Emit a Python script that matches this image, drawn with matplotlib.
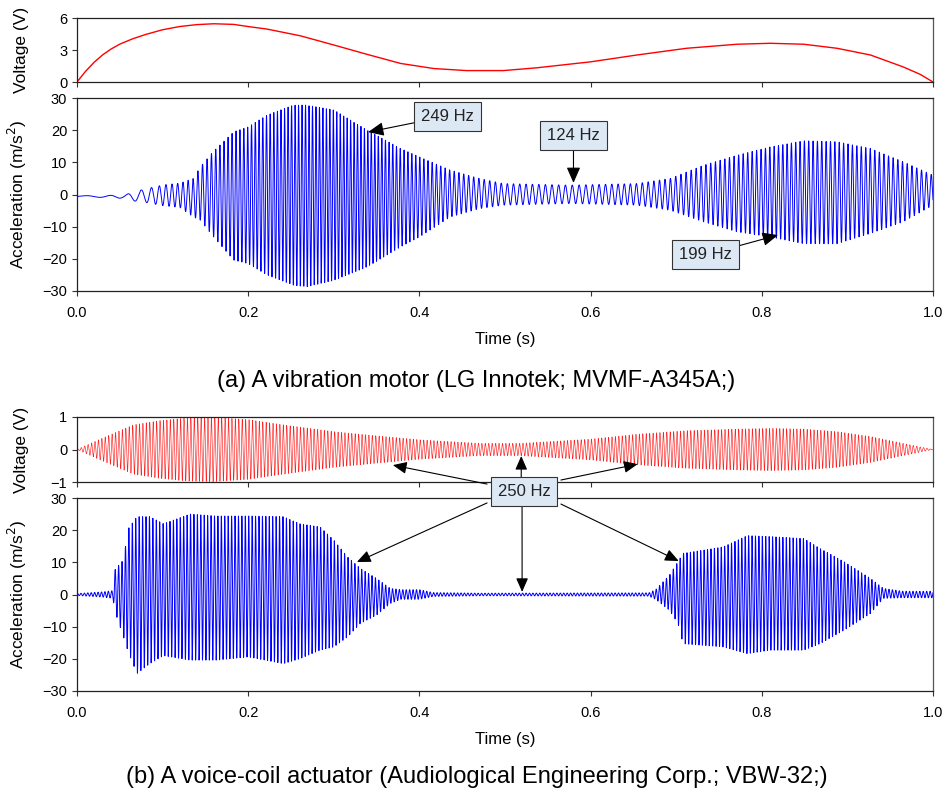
import numpy as np
import matplotlib
matplotlib.use('Agg')
import matplotlib.pyplot as plt

plt.rcParams['font.family'] = ['Liberation Sans', 'DejaVu Sans']
plt.rcParams['font.size'] = 10.5

# (a) vibration motor: drive voltage (V) sampled along the sweep
va_t = [0.0, 0.01, 0.02, 0.03, 0.04, 0.05, 0.065, 0.08, 0.1, 0.12, 0.14, 0.16, 0.183,
        0.2, 0.222, 0.261, 0.3, 0.339, 0.378, 0.417, 0.455, 0.498, 0.537, 0.6, 0.654,
        0.712, 0.771, 0.81, 0.849, 0.888, 0.927, 0.965, 0.985, 1.0]
va_v = [0.0, 1.0, 1.85, 2.55, 3.1, 3.55, 4.05, 4.45, 4.9, 5.2, 5.38, 5.46, 5.4,
        5.2, 4.96, 4.33, 3.47, 2.59, 1.74, 1.26, 1.07, 1.07, 1.33, 1.89, 2.53,
        3.16, 3.54, 3.63, 3.54, 3.16, 2.53, 1.42, 0.72, 0.0]

# (a) acceleration envelope (m/s^2) and vibration frequency (Hz)
aa_t = [0.0, 0.03, 0.055, 0.066, 0.081, 0.101, 0.12, 0.136, 0.144, 0.159, 0.183, 0.2,
        0.222, 0.253, 0.268, 0.3, 0.339, 0.378, 0.4, 0.436, 0.47, 0.498, 0.576, 0.654,
        0.693, 0.732, 0.771, 0.81, 0.849, 0.888, 0.927, 0.965, 1.0]
aa_upper = [-0.4, -0.3, -0.2, 0.8, 1.8, 3.0, 3.5, 5.0, 8.6, 13.3, 19.5, 21.0,
            24.7, 27.8, 27.8, 26.3, 20.0, 14.3, 11.7, 7.6, 5.0, 3.4, 2.9, 3.4,
            5.0, 9.1, 12.2, 14.8, 16.7, 16.4, 14.3, 10.2, 6.0]
aa_lower = [-0.8, -0.9, -1.2, -2.0, -2.5, -3.5, -4.0, -7.0, -8.0, -13.0, -20.4, -21.5,
            -25.0, -28.2, -28.7, -26.7, -22.5, -16.3, -13.2, -7.0, -4.4, -3.3, -2.8, -3.3,
            -4.9, -8.5, -11.6, -13.2, -15.3, -15.3, -12.1, -8.5, -3.3]
fa_t = [0.0, 0.066, 0.08, 0.1, 0.12, 0.17, 0.25, 0.34, 0.42, 0.5, 0.58, 0.66, 0.74, 0.82, 0.9, 1.0]
fa_hz = [20, 60, 80, 130, 160, 210, 245, 249, 200, 140, 124, 145, 180, 199, 195, 175]

# (b) voice-coil actuator: 250 Hz drive, voltage envelope (V)
vb_t = [0.0, 0.027, 0.066, 0.097, 0.128, 0.159, 0.2, 0.241, 0.3, 0.339, 0.4, 0.47,
        0.517, 0.6, 0.654, 0.712, 0.771, 0.81, 0.849, 0.888, 0.927, 0.965, 1.0]
vb_amp = [0.0, 0.32, 0.76, 0.89, 0.97, 0.99, 0.92, 0.76, 0.55, 0.45, 0.30, 0.19,
          0.19, 0.32, 0.47, 0.58, 0.63, 0.65, 0.63, 0.55, 0.40, 0.19, 0.0]
fb_hz = 250

# (b) acceleration envelope (m/s^2)
ab_t = [0.0, 0.03, 0.042, 0.044, 0.054, 0.06, 0.07, 0.085, 0.101, 0.132,
        0.163, 0.2, 0.241, 0.26, 0.284, 0.3, 0.316, 0.331, 0.35, 0.366,
        0.378, 0.4, 0.416, 0.47, 0.668, 0.676, 0.692, 0.702, 0.708, 0.732,
        0.755, 0.783, 0.81, 0.849, 0.868, 0.896, 0.927, 0.942, 0.965, 1.0]
ab_upper = [0.3, 0.8, 1.2, 7.6, 10.7, 20.5, 24.2, 24.2, 22.0, 25.0,
            24.4, 24.4, 24.2, 22.0, 21.0, 16.9, 11.7, 8.1, 5.0, 1.9,
            1.5, 1.5, 0.6, 0.4, 0.5, 1.5, 6.0, 10.2, 12.8, 13.8,
            14.8, 18.3, 18.0, 17.4, 14.3, 10.2, 5.0, 1.9, 1.0, 1.0]
ab_lower = [-0.3, -0.8, -1.2, -5.0, -13.0, -18.0, -24.6, -21.5, -19.0, -20.4,
            -20.4, -19.4, -21.5, -20.0, -17.3, -16.3, -13.2, -9.0, -6.4, -2.8,
            -1.5, -1.5, -0.6, -0.4, -0.5, -1.5, -4.9, -9.0, -15.3, -15.8,
            -16.3, -18.4, -17.3, -17.3, -15.3, -11.1, -5.9, -1.2, -1.0, -1.0]

# build the sampled waveforms (10 kHz)
fs = 10000
t = np.arange(0, fs + 1) / fs
phase_a = 2 * np.pi * np.cumsum(np.interp(t, fa_t, fa_hz)) / fs
up_a, lo_a = np.interp(t, aa_t, aa_upper), np.interp(t, aa_t, aa_lower)
acc_a = (up_a + lo_a) / 2 + (up_a - lo_a) / 2 * np.sin(phase_a)

carrier_b = np.sin(2 * np.pi * fb_hz * t)
volt_b = np.interp(t, vb_t, vb_amp) * carrier_b
up_b, lo_b = np.interp(t, ab_t, ab_upper), np.interp(t, ab_t, ab_lower)
acc_b = (up_b + lo_b) / 2 + (up_b - lo_b) / 2 * np.sin(2 * np.pi * fb_hz * t + 0.6)

fig = plt.figure(figsize=(9.44, 7.91), dpi=100)
W, H = 944, 791


def add_ax(left, top, right, bottom):
    return fig.add_axes([left / W, 1 - bottom / H, (right - left) / W, (bottom - top) / H])


ax1 = add_ax(77, 18, 933, 82)
ax2 = add_ax(77, 98, 933, 291)
ax3 = add_ax(77, 417, 933, 482)
ax4 = add_ax(77, 498, 933, 691)

ax1.plot(va_t, va_v, color='#ff0000', lw=1.0)
ax2.plot(t, acc_a, color='#0000ff', lw=0.7)
ax3.plot(t, volt_b, color='#ff2020', lw=0.45)
ax4.plot(t, acc_b, color='#0000ff', lw=0.7)

ax1.set_ylim(0, 6)
ax1.set_yticks([0, 3, 6])
ax2.set_ylim(-30, 30)
ax2.set_yticks(np.arange(-30, 31, 10))
ax3.set_ylim(-1, 1)
ax3.set_yticks([-1, 0, 1])
ax4.set_ylim(-30, 30)
ax4.set_yticks(np.arange(-30, 31, 10))

for ax in (ax1, ax2, ax3, ax4):
    ax.set_xlim(0, 1)
    ax.set_xticks(np.arange(0, 1.01, 0.2))
    ax.tick_params(direction='out', length=3.5, width=0.8, color='#333333', labelsize=10.5)
    ax.tick_params(axis='x', pad=7)
    for side, sp in ax.spines.items():
        sp.set_color('#555555' if side == 'right' else '#222222')
        sp.set_linewidth(0.9)
    ax.yaxis.set_label_coords(-0.056, 0.5)

for ax in (ax1, ax3):
    ax.tick_params(axis='x', labelbottom=False)
    ax.set_ylabel('Voltage (V)', fontsize=12.5)

for ax in (ax2, ax4):
    ax.xaxis.set_major_formatter(matplotlib.ticker.FormatStrFormatter('%.1f'))
    ax.set_ylabel('Acceleration (m/s$^2$)', fontsize=12.5)
    ax.set_xlabel('Time (s)', fontsize=12, labelpad=9)

box = dict(boxstyle='square,pad=0.42', facecolor='#dde8f5', edgecolor='#333333', lw=0.8)
arrow = dict(arrowstyle='-|>,head_length=0.8,head_width=0.35', color='black', lw=0.8,
             shrinkA=0, shrinkB=0)

# frequency labels for the motor response
ax2.annotate('249 Hz', xy=(0.340, 19.4), xytext=(0.433, 24.4), ha='center', va='center',
             fontsize=12, color='#222222', bbox=box, arrowprops=arrow, zorder=5)
ax2.annotate('124 Hz', xy=(0.58, 3.6), xytext=(0.58, 18.2), ha='center', va='center',
             fontsize=12, color='#222222', bbox=box, arrowprops=arrow, zorder=5)
ax2.annotate('199 Hz', xy=(0.819, -12.6), xytext=(0.734, -18.8), ha='center', va='center',
             fontsize=12, color='#222222', bbox=box, arrowprops=arrow, zorder=5)

# shared 250 Hz label pointing at both voice-coil traces
box_xy = (524 / W, 1 - 491 / H)
targets = [(ax3, (0.369, -0.48), (-26.6, 5)),
           (ax3, (0.519, -0.20), (-2, 9.4)),
           (ax3, (0.655, -0.45), (26.6, 7.9)),
           (ax4, (0.327, 10.1), (-26.6, -8.6)),
           (ax4, (0.520, 0.8), (-1.4, -10)),
           (ax4, (0.703, 10.4), (26.6, -9.4))]
for tax, tip, off in targets:
    tail = fig.transFigure.inverted().transform(
        fig.transFigure.transform(box_xy) + np.array(off) * fig.dpi / 72)
    ax4.annotate('', xy=tip, xycoords=tax.transData, xytext=tail,
                 textcoords='figure fraction', arrowprops=arrow,
                 annotation_clip=False, zorder=6)
ax4.text(box_xy[0], box_xy[1], '250 Hz', transform=fig.transFigure, ha='center',
         va='center', fontsize=12, color='#222222', bbox=box, zorder=7, clip_on=False)

fig.text(476 / W, 1 - 381 / H, '(a) A vibration motor (LG Innotek; MVMF-A345A;)',
         ha='center', va='center', fontsize=17)
fig.text(477 / W, 1 - 777 / H,
         '(b) A voice-coil actuator (Audiological Engineering Corp.; VBW-32;)',
         ha='center', va='center', fontsize=17)

fig.savefig('out.png', dpi=100)
